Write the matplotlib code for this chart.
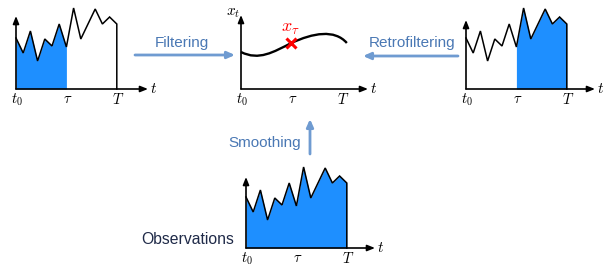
import matplotlib
matplotlib.use("Agg")
import matplotlib.pyplot as plt
from matplotlib.path import Path
from matplotlib.patches import PathPatch

plt.rcParams['mathtext.fontset'] = 'cm'
plt.rcParams['font.family'] = ['Liberation Sans', 'DejaVu Sans']

# Data: observation series (time index, value)
times = [0, 1, 2, 3, 4, 5, 6, 7, 8, 9, 11, 12, 13, 14]
values = [51, 36, 58, 28, 50, 43, 65, 42, 81, 50, 80, 65, 72, 65]
tau = 7
T_end = 14
# smooth estimated state curve (cubic Bezier control points: t, value)
curve_t = [0, 2.5, 4.5, 7, 10, 13, 14.7]
curve_v = [37, 28, 37, 46, 56, 60, 46]
x_tau_value = 46
tick_labels = ['$t_0$', r'$\tau$', '$T$']

W, H = 605, 267
DX = 7.2  # px per time unit
fig = plt.figure(figsize=(W / 100, H / 100), dpi=100)

BLUE = '#1E8FFF'
ARROW = '#6F9BD1'
TEXTBLUE = '#4A78B4'


def panel(ox, oy, xend, ytop):
    # ox, oy: origin in pixels (image coords); xend, ytop: axis extents in px
    left, right, up, down = 14, xend - ox + 12, 92, 22
    ax = fig.add_axes([(ox - left) / W, (H - (oy + down)) / H,
                       (left + right) / W, (up + down) / H])
    ax.set_xlim(-left / DX, right / DX)
    ax.set_ylim(-down, up)
    ax.axis('off')
    xe = (xend - ox) / DX
    ye = oy - ytop
    ax.annotate('', xy=(xe, 0), xytext=(0, 0),
                arrowprops=dict(arrowstyle='-|>,head_length=0.45,head_width=0.18',
                                color='black', lw=1.2, shrinkA=0, shrinkB=0))
    ax.annotate('', xy=(0, ye), xytext=(0, 0),
                arrowprops=dict(arrowstyle='-|>,head_length=0.45,head_width=0.18',
                                color='black', lw=1.2, shrinkA=0, shrinkB=0))
    ax.text(xe + 0.3, 0, '$t$', fontsize=11, va='center', ha='left')
    for tk, lab in zip([0, tau, T_end], tick_labels):
        ax.text(tk + 0.2, -3, lab, fontsize=10.5, ha='center', va='top')
    return ax


def series(ax, fill_from, fill_to):
    ft = [t for t in times if fill_from <= t <= fill_to]
    fv = [v for t, v in zip(times, values) if fill_from <= t <= fill_to]
    ax.fill_between(ft, 0, fv, color=BLUE, lw=0, zorder=1)
    ax.plot(times + [T_end], values + [0], color='black', lw=1.1, zorder=2,
            solid_joinstyle='miter')


# Top-left: filtering
ax1 = panel(16, 89, 148, 16)
series(ax1, 0, tau)

# Top-right: retrofiltering
ax3 = panel(466, 89, 595, 20)
series(ax3, tau, T_end)

# Bottom: observations (smoothing)
ax4 = panel(246, 248, 375, 177)
series(ax4, 0, T_end)

# Middle: state estimate
ax2 = panel(241, 89, 368, 15)
verts = list(zip(curve_t, curve_v))
codes = [Path.MOVETO] + [Path.CURVE4] * 6
ax2.add_patch(PathPatch(Path(verts, codes), fill=False, color='black', lw=1.7))
ax2.plot([tau], [x_tau_value], marker='x', color='red', ms=7, mew=2.2, zorder=5)
ax2.text(tau - 0.1, 52, r'$x_\tau$', color='red', fontsize=13, ha='center', va='bottom')
ax2.text(-1.1, 76, '$x_t$', fontsize=11, ha='center', va='center')

# Overlay for arrows and labels
ov = fig.add_axes([0, 0, 1, 1])
ov.set_xlim(0, W)
ov.set_ylim(H, 0)
ov.axis('off')


def arrow(x0, y0, x1, y1):
    ov.annotate('', xy=(x1, y1), xytext=(x0, y0),
                arrowprops=dict(arrowstyle='-|>,head_length=0.45,head_width=0.2',
                                color=ARROW, lw=2.0, shrinkA=0, shrinkB=0))


arrow(135, 55, 235, 55)
arrow(458, 56, 363, 56)
arrow(310, 154, 310, 119)
ov.text(182, 43, 'Filtering', color=TEXTBLUE, fontsize=11, ha='center', va='center')
ov.text(412, 43, 'Retrofiltering', color=TEXTBLUE, fontsize=11, ha='center', va='center')
ov.text(265, 143, 'Smoothing', color=TEXTBLUE, fontsize=11, ha='center', va='center')
ov.text(188, 240, 'Observations', color='#1F2A48', fontsize=11.3, ha='center', va='center')

fig.savefig('out.png', dpi=100)
